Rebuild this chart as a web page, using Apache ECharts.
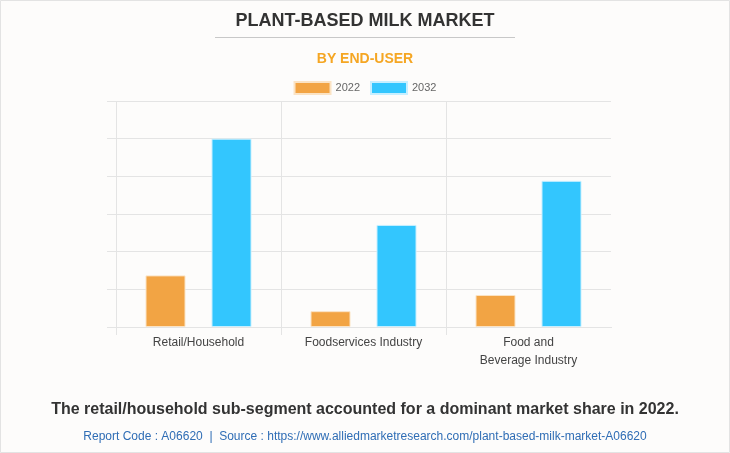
<!DOCTYPE html>
<html>
<head>
<meta charset="utf-8">
<script src="https://cdn.jsdelivr.net/npm/echarts@6/dist/echarts.min.js"></script>
<style>
html,body{margin:0;padding:0;background:#fdfcfb;}
#c{width:730px;height:453px;}
</style>
</head>
<body>
<div id="c"></div>
<script>
const categories = ['Retail/Household', 'Foodservices Industry', 'Food and\nBeverage Industry'];
const seriesNames = ['2022', '2032'];
const values2022 = [1.37, 0.42, 0.85];
const values2032 = [5.0, 2.71, 3.88];

const chart = echarts.init(document.getElementById('c'), null, {renderer: 'canvas'});
const gridColor = '#e4e4e4';
chart.setOption({
  backgroundColor: '#fdfcfb',
  animation: false,
  title: [
    {text: 'PLANT-BASED MILK MARKET', left: 'center', top: 7,
     textStyle: {fontFamily: 'Arial, Liberation Sans', fontSize: 18, fontWeight: 'bold', color: '#333'}},
    {text: 'BY END-USER', left: 'center', top: 47,
     textStyle: {fontFamily: 'Arial, Liberation Sans', fontSize: 14, fontWeight: 'bold', color: '#f5a623'}},
    {text: 'The retail/household sub-segment accounted for a dominant market share in 2022.', left: 'center', top: 397,
     textStyle: {fontFamily: 'Arial, Liberation Sans', fontSize: 16, fontWeight: 'bold', color: '#333'}},
    {text: 'Report Code : A06620  |  Source : https://www.alliedmarketresearch.com/plant-based-milk-market-A06620', left: 'center', top: 426,
     textStyle: {fontFamily: 'Arial, Liberation Sans', fontSize: 12, fontWeight: 'normal', color: '#2f6db5'}}
  ],
  graphic: [
    {type: 'line', shape: {x1: 215, y1: 37.5, x2: 515, y2: 37.5}, style: {stroke: '#c8c8c8', lineWidth: 1}},
    {type: 'rect', shape: {x: 0.5, y: 0.5, width: 729, height: 452}, style: {fill: null, stroke: '#e3e3e3', lineWidth: 1}, silent: true},
    {type: 'rect', shape: {x: 610, y: 328, width: 3, height: 10}, style: {fill: '#fdfcfb'}, z: 100, silent: true}
  ],
  legend: {
    data: seriesNames, top: 76, left: 'center', icon: 'rect', itemWidth: 36, itemHeight: 12, itemGap: 10,
    textStyle: {fontFamily: 'Arial, Liberation Sans', fontSize: 11, color: '#666'}
  },
  grid: {left: 116, right: 119, top: 101, bottom: 126, containLabel: false},
  xAxis: {
    type: 'category', data: categories,
    axisLine: {show: true, lineStyle: {color: gridColor}},
    axisTick: {show: true, length: 8, lineStyle: {color: gridColor}},
    splitLine: {show: true, showMaxLine: false, lineStyle: {color: gridColor}},
    axisLabel: {fontFamily: 'Arial, Liberation Sans', fontSize: 12, color: '#444', lineHeight: 18, margin: 7}
  },
  yAxis: {
    type: 'value', min: 0, max: 6, interval: 1,
    axisLine: {show: false},
    axisTick: {show: true, length: 9, lineStyle: {color: gridColor}},
    axisLabel: {show: false},
    splitLine: {show: true, lineStyle: {color: gridColor}}
  },
  series: [
    {name: seriesNames[0], type: 'bar', data: values2022, barWidth: 40, barGap: '65%',
     itemStyle: {color: '#f2a444', borderColor: '#fbe3c4', borderWidth: 1}},
    {name: seriesNames[1], type: 'bar', data: values2032, barWidth: 40, barGap: '65%',
     itemStyle: {color: '#33c6fe', borderColor: '#c7efff', borderWidth: 1}}
  ]
});
</script>
</body>
</html>
